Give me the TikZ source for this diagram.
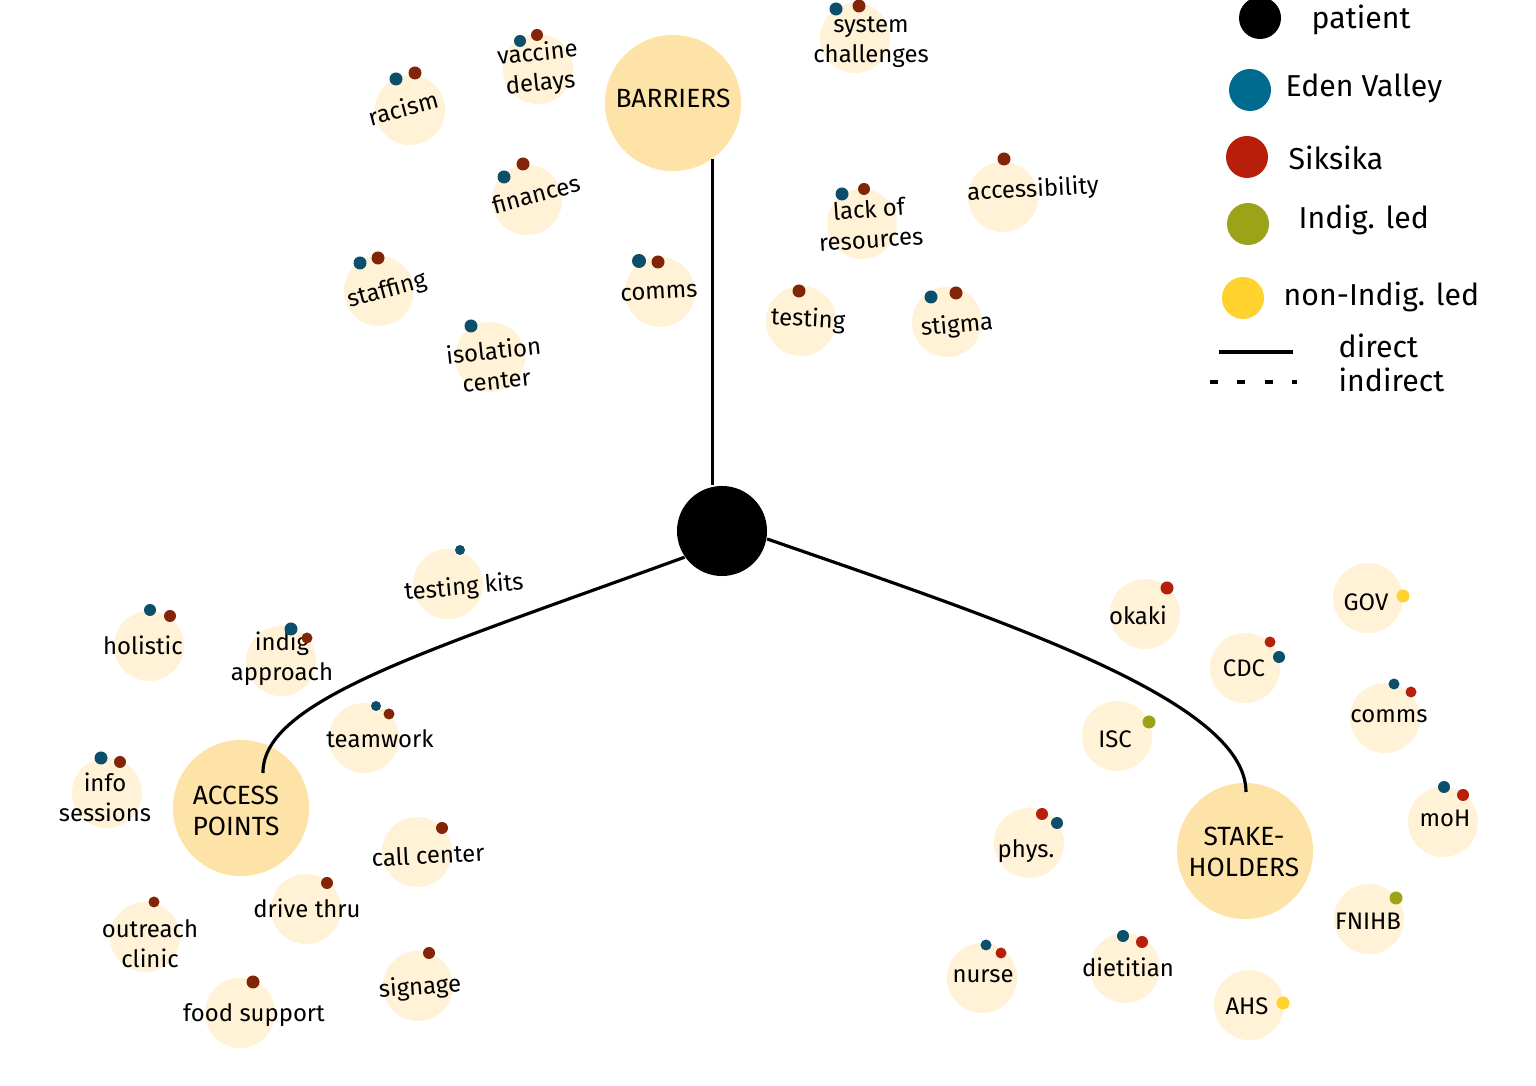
\documentclass[tikz,border=0pt]{standalone}
\usepackage{fontspec}
\setmainfont{Fira Sans}
\definecolor{pale}{HTML}{FFF2D6}
\definecolor{hubfill}{HTML}{FEE3A8}
\definecolor{evdot}{HTML}{0B4F6C}
\definecolor{evkey}{HTML}{006B8F}
\definecolor{sikdark}{HTML}{822408}
\definecolor{sikred}{HTML}{B81F0A}
\definecolor{indig}{HTML}{9AA416}
\definecolor{nonindig}{HTML}{FFD22E}

\begin{document}
\begin{tikzpicture}[x=0.01cm,y=-0.01cm,font=\fontsize{6.8}{8.6}\selectfont,
 topic/.style={circle,fill=pale,inner sep=0pt,minimum size=0.7cm},
 hub/.style={circle,fill=hubfill,inner sep=0pt,minimum size=1.36cm},
 lbl/.style={align=center,inner sep=0pt},
 hubtext/.style={align=center,inner sep=0pt,font=\fontsize{7.5}{9}\selectfont},
 key/.style={circle,inner sep=0pt,minimum size=0.42cm},
 keytext/.style={anchor=west,inner sep=0pt,font=\fontsize{8.6}{10}\selectfont},
 direct/.style={line width=0.9pt},
 indirect/.style={line width=0.9pt,dash pattern=on 2.2pt off 5.6pt}]
\path[use as bounding box] (0,0) rectangle (1536,1086);
% centre
\node[circle,fill=black,inner sep=0pt,minimum size=0.9cm] (patient) at (722,531) {};
% barriers
\node[hub] (barriers) at (673,103) {};
\node[hubtext] (barriers-l) at (673,98) {BARRIERS};
\node[topic] (racism) at (410,110) {};
\node[topic] (vaccine) at (538,69) {};
\node[topic] (finances) at (527,200) {};
\node[topic] (staffing) at (379,291) {};
\node[topic] (comms1) at (660,292) {};
\node[topic] (isolation) at (490,357) {};
\node[topic] (system) at (855,38) {};
\node[topic] (lack) at (862,224) {};
\node[topic] (access1) at (1003,197) {};
\node[topic] (testing) at (801,321) {};
\node[topic] (stigma) at (947,322) {};
\node[lbl,rotate=15] (racism-l) at (403,108) {racism};
\node[lbl,rotate=6] (vaccine-l) at (539,69) {vaccine\\delays};
\node[lbl,rotate=15] (finances-l) at (536,194) {finances};
\node[lbl,rotate=15] (staffing-l) at (387,291) {staffing};
\node[lbl,rotate=3] (comms1-l) at (659,293) {comms};
\node[lbl,rotate=6] (isolation-l) at (495,365) {isolation\\center};
\node[lbl] (system-l) at (871,42) {system\\challenges};
\node[lbl,rotate=4] (lack-l) at (870,224) {lack of\\resources};
\node[lbl,rotate=3] (access1-l) at (1033,190) {accessibility};
\node[lbl,rotate=-3] (testing-l) at (808,320) {testing};
\node[lbl,rotate=5] (stigma-l) at (957,326) {stigma};
\fill[evdot] (396,79) circle (6.5); \fill[sikdark] (415,73) circle (6.5);
\fill[evdot] (520,41) circle (6); \fill[sikdark] (537,35) circle (6);
\fill[evdot] (504,177) circle (6.5); \fill[sikdark] (523,164) circle (6.5);
\fill[evdot] (360,263) circle (6.5); \fill[sikdark] (378,258) circle (6.5);
\fill[evdot] (639,261) circle (7); \fill[sikdark] (658,262) circle (6.5);
\fill[evdot] (471,326) circle (6.5);
\fill[evdot] (836,9) circle (6.5); \fill[sikdark] (859,6) circle (6.5);
\fill[evdot] (842,194) circle (6.5); \fill[sikdark] (864,189) circle (6);
\fill[sikdark] (1004,159) circle (6.5);
\fill[sikdark] (799,291) circle (6.5);
\fill[evdot] (931,297) circle (6.5); \fill[sikdark] (956,293) circle (6.5);
% access points
\node[hub] (points) at (241,808) {};
\node[hubtext] (points-l) at (236,811) {ACCESS\\POINTS};
\node[topic] (kits) at (448,584) {};
\node[topic] (holistic) at (149,646) {};
\node[topic] (approach) at (281,661) {};
\node[topic] (teamwork) at (364,738) {};
\node[topic] (info) at (107,793) {};
\node[topic] (call) at (417,852) {};
\node[topic] (drive) at (306,909) {};
\node[topic] (outreach) at (145,937) {};
\node[topic] (signage) at (418,986) {};
\node[topic] (food) at (240,1013) {};
\node[lbl,rotate=5] (kits-l) at (464,588) {testing kits};
\node[lbl] (holistic-l) at (143,645) {holistic};
\node[lbl] (approach-l) at (282,659) {indig\\approach};
\node[lbl] (teamwork-l) at (380,739) {teamwork};
\node[lbl] (info-l) at (105,797) {info\\sessions};
\node[lbl,rotate=3] (call-l) at (428,855) {call center};
\node[lbl] (drive-l) at (307,908) {drive thru};
\node[lbl] (outreach-l) at (150,944) {outreach\\clinic};
\node[lbl,rotate=4] (signage-l) at (420,988) {signage};
\node[lbl] (food-l) at (254,1015) {food support};
\fill[evdot] (460,550) circle (5);
\fill[evdot] (150,610) circle (6); \fill[sikdark] (170,616) circle (6);
\fill[evdot] (291,629) circle (6.5); \fill[sikdark] (307,638) circle (5.5);
\fill[evdot] (376,706) circle (5); \fill[sikdark] (389,714) circle (5.5);
\fill[evdot] (101,758) circle (6.5); \fill[sikdark] (120,762) circle (6);
\fill[sikdark] (442,828) circle (6);
\fill[sikdark] (327,883) circle (6);
\fill[sikdark] (154,902) circle (5.5);
\fill[sikdark] (429,953) circle (6);
\fill[sikdark] (253,982) circle (6.5);
% stakeholders
\node[hub] (holders) at (1245,851) {};
\node[hubtext] (holders-l) at (1244,852) {STAKE-\\HOLDERS};
\node[topic] (okaki) at (1145,614) {};
\node[topic] (gov) at (1368,598) {};
\node[topic] (cdc) at (1245,668) {};
\node[topic] (comms2) at (1385,718) {};
\node[topic] (isc) at (1117,736) {};
\node[topic] (moh) at (1443,822) {};
\node[topic] (phys) at (1029,843) {};
\node[topic] (fnihb) at (1369,919) {};
\node[topic] (nurse) at (982,978) {};
\node[topic] (dietitian) at (1125,968) {};
\node[topic] (ahs) at (1249,1005) {};
\node[lbl] (okaki-l) at (1138,615) {okaki};
\node[lbl] (gov-l) at (1366,602) {GOV};
\node[lbl] (cdc-l) at (1244,668) {CDC};
\node[lbl] (comms2-l) at (1389,716) {comms};
\node[lbl] (isc-l) at (1115,739) {ISC};
\node[lbl] (moh-l) at (1445,818) {moH};
\node[lbl] (phys-l) at (1026,851) {phys.};
\node[lbl] (fnihb-l) at (1368,921) {FNIHB};
\node[lbl] (nurse-l) at (983,976) {nurse};
\node[lbl] (dietitian-l) at (1128,967) {dietitian};
\node[lbl] (ahs-l) at (1247,1006) {AHS};
\fill[sikred] (1167,588) circle (6.5);
\fill[nonindig] (1403,596) circle (6.5);
\fill[sikred] (1270,642) circle (5.5); \fill[evdot] (1279,657) circle (6);
\fill[evdot] (1394,684) circle (5.5); \fill[sikred] (1411,692) circle (5.5);
\fill[indig] (1149,722) circle (6.5);
\fill[evdot] (1444,787) circle (6); \fill[sikred] (1463,795) circle (6);
\fill[sikred] (1042,814) circle (6); \fill[evdot] (1057,823) circle (6);
\fill[indig] (1396,898) circle (6.5);
\fill[evdot] (986,945) circle (5.5); \fill[sikred] (1001,953) circle (5.5);
\fill[evdot] (1123,936) circle (6); \fill[sikred] (1142,942) circle (6);
\fill[nonindig] (1283,1003) circle (6.5);
% connectors
\draw[direct] (barriers.-55) -- (barriers.-55 |- patient.north);
\coordinate (pointsend) at (263,773);
\coordinate (holdersend) at (1246,792);
\draw[direct] (patient.215) .. controls (430,650) and (262,700) .. (pointsend);
\draw[direct] (patient.-10) .. controls (1000,620) and (1246,700) .. (holdersend);
% legend
\node[key,fill=black] (k-patient) at (1260,18) {};
\node[key,fill=evkey] (k-eden) at (1250,90) {};
\node[key,fill=sikred] (k-siksika) at (1247,157) {};
\node[key,fill=indig] (k-indig) at (1248,224) {};
\node[key,fill=nonindig] (k-non) at (1243,298) {};
\node[keytext] (t-patient) at (1311,20) {patient};
\node[keytext] (t-eden) at (1285,88) {Eden Valley};
\node[keytext] (t-siksika) at (1288,158) {Siksika};
\node[keytext] (t-indig) at (1298,220) {Indig. led};
\node[keytext] (t-non) at (1283,297) {non-Indig. led};
\draw[direct] (1219,352) -- (1293,352);
\draw[indirect] (1210,382) -- (1297,382);
\node[keytext] (t-direct) at (1338,346) {direct};
\node[keytext] (t-indirect) at (1338,380) {indirect};
\end{tikzpicture}
\end{document}
